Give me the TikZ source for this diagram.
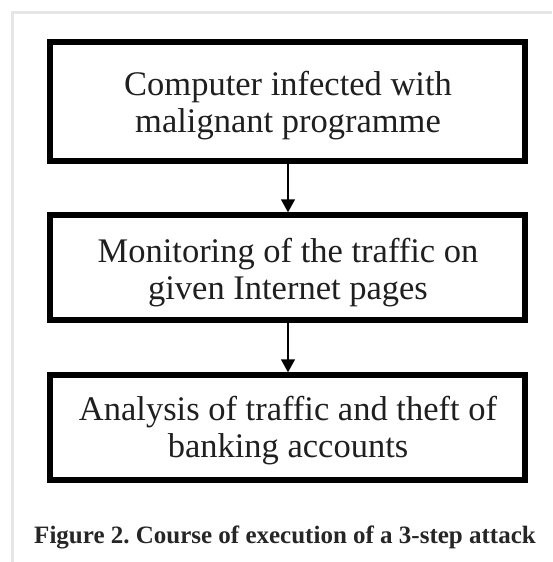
\documentclass[tikz,border=0pt]{standalone}
\usepackage{fontspec}
\setmainfont{Liberation Serif}
\usetikzlibrary{arrows.meta}
\frenchspacing

\tikzset{
  stepbox/.style={draw=black, line width=5.5pt, rectangle, minimum width=475pt, inner sep=0pt},
  steptext/.style={align=center, inner sep=0pt, font=\fontsize{34.5}{36.5}\selectfont, text=black!88},
  flow/.style={line width=1.6pt, -{Triangle[width=14pt,length=13pt]}},
  frameedge/.style={draw=black!10, line width=3pt}
}

\begin{document}
\begin{tikzpicture}[x=1pt, y=-1pt]
  \useasboundingbox (0,0) rectangle (552,562);
  \fill[white] (0,0) rectangle (552,562);

  % page edge shading at top and left
  \coordinate (edgeTop) at (552,12.5);
  \coordinate (edgeCorner) at (12.5,12.5);
  \coordinate (edgeBottom) at (12.5,562);
  \draw[frameedge] (edgeTop) -- (edgeCorner) -- (edgeBottom);

  % the three steps
  \node[stepbox, minimum height=119pt] (b1) at (287.5,101.5) {};
  \node[stepbox, minimum height=105pt] (b2) at (287.5,267.5) {};
  \node[stepbox, minimum height=105pt] (b3) at (287.5,427.5) {};

  \node[steptext] (t1) at (288,105.5) {Computer infected with\\malignant programme};
  \node[steptext] (t2) at (288,272.5) {Monitoring of the traffic on\\given Internet pages};
  \node[steptext] (t3) at (288,430.5) {Analysis of traffic and theft of\\banking accounts};

  % arrows between steps
  \draw[flow] (b1.south -| 288,0) -- (b2.north -| 288,0);
  \draw[flow] (b2.south -| 288,0) -- (b3.north -| 288,0);

  % caption
  \node[anchor=base, inner sep=0pt, font=\fontsize{25}{28}\selectfont\bfseries, text=black!85] (cap) at (285,543)
    {Figure 2. Course of execution of a 3-step attack};
\end{tikzpicture}
\end{document}
